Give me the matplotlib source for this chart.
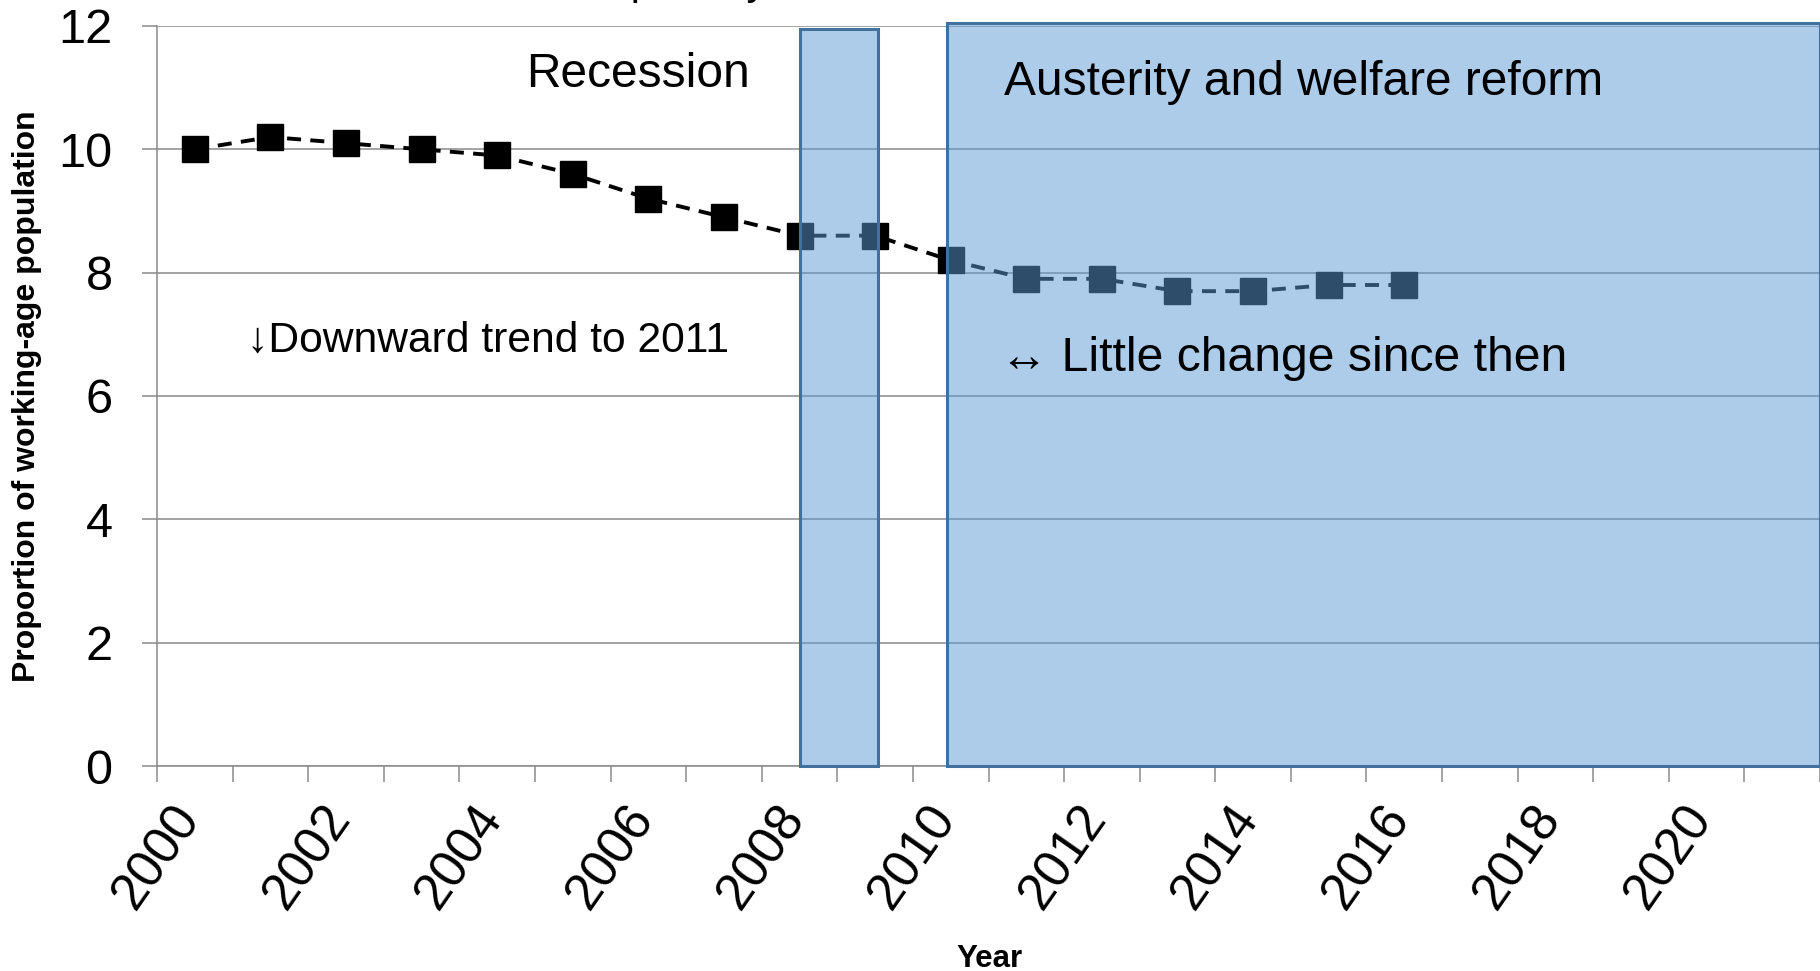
import matplotlib
matplotlib.use("Agg")
import matplotlib.pyplot as plt
from matplotlib.patches import Rectangle
import numpy as np

plt.rcParams['font.family'] = ['Liberation Sans', 'DejaVu Sans']

# Proportion of working-age population, by year
years = [2000, 2001, 2002, 2003, 2004, 2005, 2006, 2007, 2008,
         2009, 2010, 2011, 2012, 2013, 2014, 2015, 2016]
proportion = [10.0, 10.2, 10.1, 10.0, 9.9, 9.6, 9.2, 8.9, 8.6,
              8.6, 8.2, 7.9, 7.9, 7.7, 7.7, 7.8, 7.8]

# Shaded periods (start, end, top)
recession = (2008.5, 2009.54, 11.95)
austerity = (2010.45, 2022.0, 12.05)

major_years = list(range(2000, 2021, 2))
all_years = list(range(2000, 2023))
y_ticks = [0, 2, 4, 6, 8, 10, 12]

grey = '#8a8a8a'

fig = plt.figure(figsize=(18.2, 9.71), dpi=100)
ax = fig.add_axes([157 / 1820, 1 - 766 / 971, 1 - 157 / 1820, (766 - 26) / 971])

ax.set_xlim(2000, 2022.0)
ax.set_ylim(0, 12)

# Horizontal gridlines
ax.set_yticks(y_ticks)
ax.yaxis.grid(True, color=grey, linewidth=1.1, zorder=0)
ax.set_axisbelow(True)

# Series: points sit in the middle of each year
x = np.array(years) + 0.5
ax.plot(x, proportion, color='black', linewidth=2.8, linestyle=(0, (3.6, 2.4)),
        marker='s', markersize=18.5, markerfacecolor='black',
        markeredgecolor='black', zorder=3)

# Shaded periods drawn over the series
fill = (91 / 255, 155 / 255, 213 / 255, 0.5)
edge = '#41719c'
for start, end, top in (recession, austerity):
    ax.add_patch(Rectangle((start, 0), end - start, top, facecolor=fill,
                           edgecolor=edge, linewidth=2.2, zorder=4,
                           clip_on=False))

# Axes styling
for side in ('top', 'right'):
    ax.spines[side].set_visible(False)
for side in ('left', 'bottom'):
    ax.spines[side].set_color(grey)
    ax.spines[side].set_linewidth(1.1)

ax.set_xticks(major_years)
ax.set_xticks(all_years, minor=True)
ax.set_xticklabels([str(y) for y in major_years])
ax.tick_params(axis='x', which='both', direction='out', length=11.5,
               width=1.1, color=grey)
ax.tick_params(axis='x', which='major', labelsize=37, pad=10)
for lbl in ax.get_xticklabels():
    lbl.set_rotation(55)
    lbl.set_ha('center')
    lbl.set_va('top')

ax.tick_params(axis='y', direction='out', length=11, width=1.1, color=grey,
               labelsize=35, pad=21)

# Annotations
ax.text(2004.88, 11.01, 'Recession', fontsize=34.5, ha='left', va='baseline', zorder=6)
ax.text(2011.20, 10.88, 'Austerity and welfare reform', fontsize=34.5,
        ha='left', va='baseline', zorder=6)
ax.text(2001.19, 6.71, '\u2193Downward trend to 2011', fontsize=30.7,
        ha='left', va='baseline', zorder=6)
ax.text(2011.15, 6.41, '\u2194 Little change since then', fontsize=34.7,
        ha='left', va='baseline', zorder=6)

# Axis titles
fig.text(27 / 1820, 1 - 396 / 971, 'Proportion of working-age population',
         rotation=90, ha='center', va='center', fontsize=23, fontweight='bold')
fig.text(989.5 / 1820, 1 - 967 / 971, 'Year', ha='center', va='baseline',
         fontsize=22.5, fontweight='bold')

# Chart title, set above the plotting area
fig.text(767 / 1820, 1 + 6 / 971, 'Relative poverty', ha='right',
         va='baseline', fontsize=30)

fig.savefig('out.png', dpi=100)
